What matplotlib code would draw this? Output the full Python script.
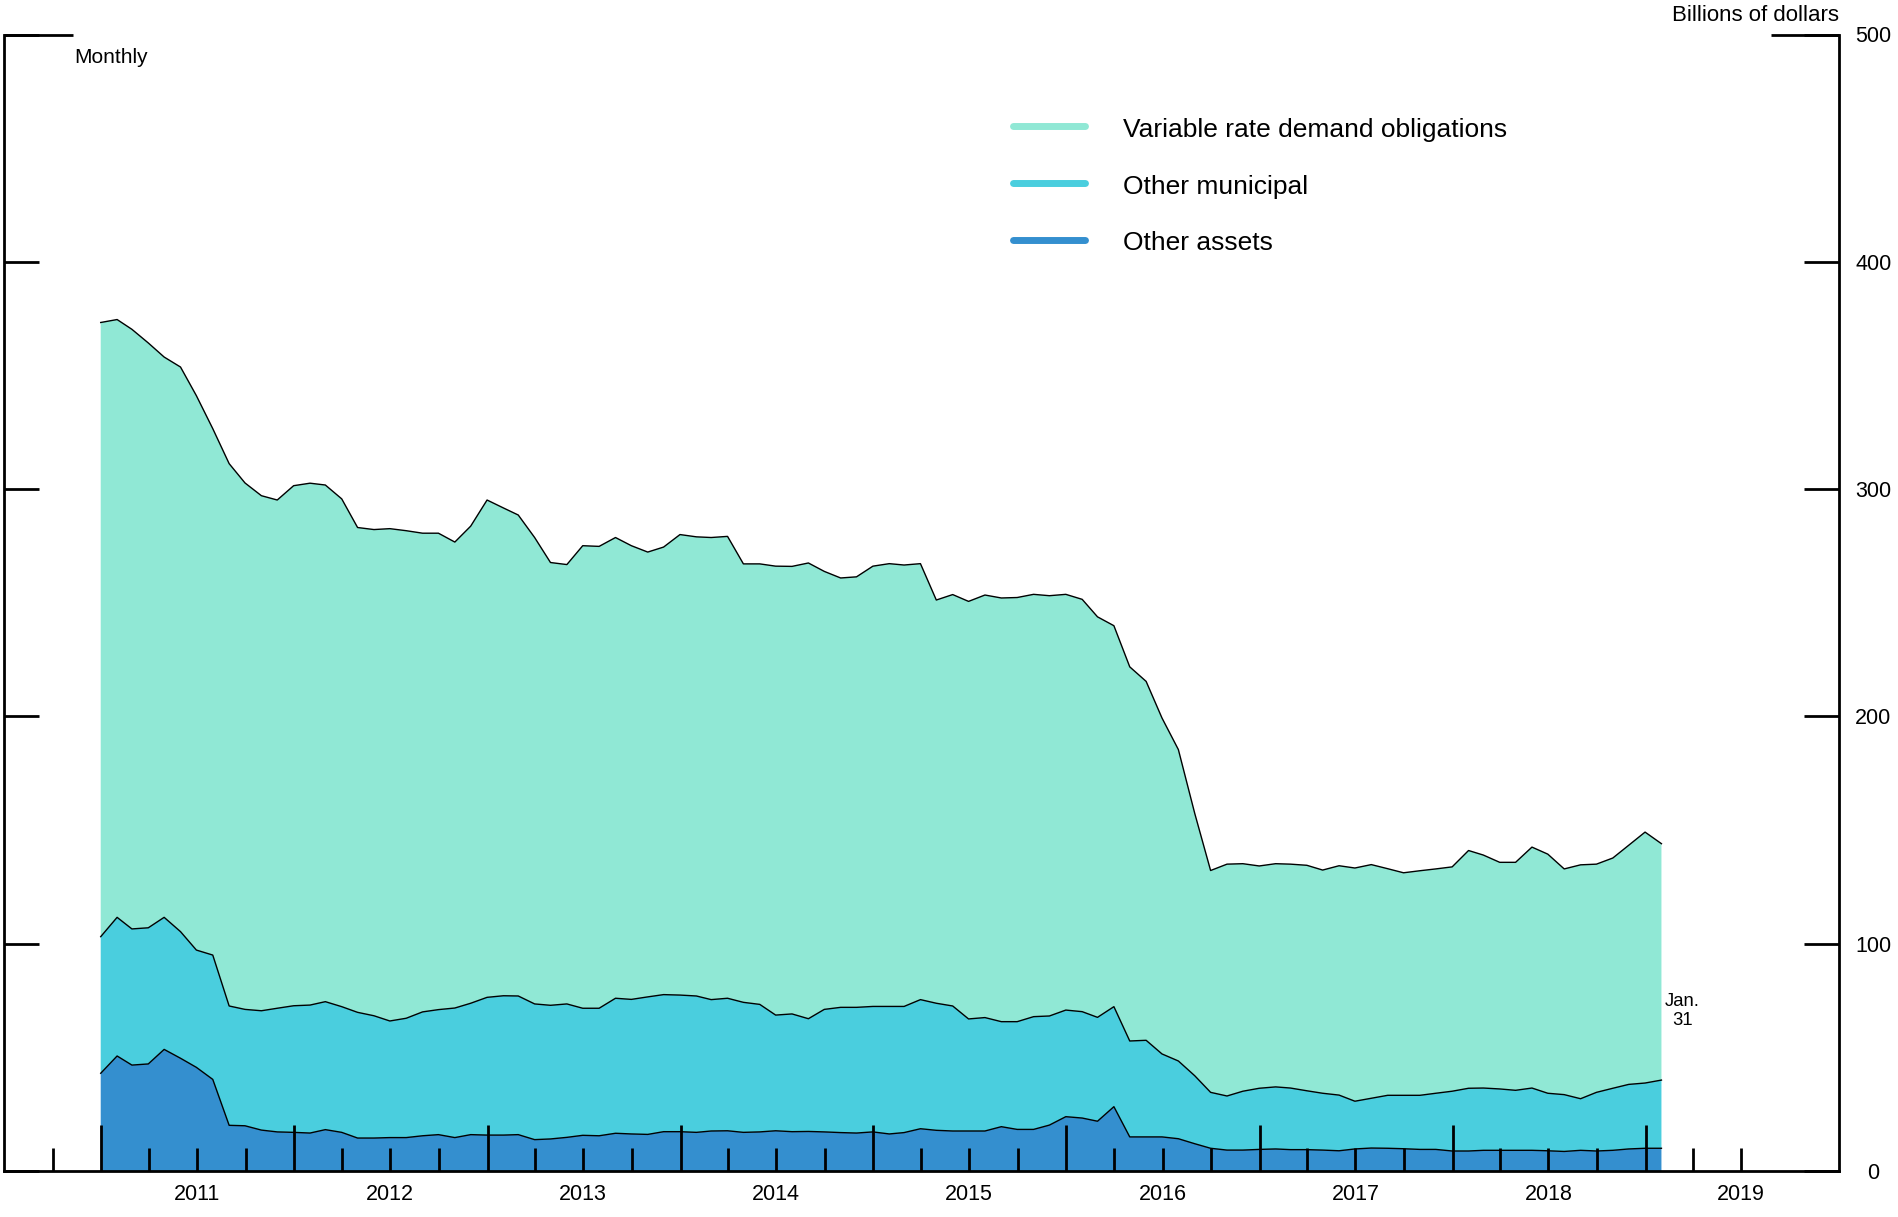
#!/usr/bin/env python3
"""Stacked area chart of tax-exempt fund holdings, monthly, billions of dollars."""
import matplotlib

matplotlib.use("Agg")

import matplotlib.pyplot as plt
import numpy as np
import pandas as pd
from matplotlib.lines import Line2D

plt.rcParams["font.family"] = ["Liberation Sans", "DejaVu Sans"]

# month-end observations, Dec. 2010 through Jan. 2019
months = pd.date_range("2010-12-31", "2019-01-31", freq="ME")

other_assets = [
    43.0, 50.6, 46.6, 47.1, 53.5, 49.6, 45.6, 40.3, 20.1, 19.9, 18.0, 17.2,
    17.0, 16.7, 18.2, 17.0, 14.5, 14.5, 14.7, 14.7, 15.5, 16.0, 14.7, 16.0,
    15.8, 15.8, 16.0, 13.8, 14.1, 14.8, 15.7, 15.5, 16.6, 16.3, 16.1, 17.3,
    17.3, 17.0, 17.6, 17.7, 17.0, 17.2, 17.7, 17.3, 17.4, 17.2, 16.9, 16.7,
    17.2, 16.3, 16.9, 18.6, 17.9, 17.6, 17.6, 17.6, 19.5, 18.3, 18.3, 20.2,
    23.9, 23.3, 21.9, 28.3, 15.0, 15.0, 15.0, 14.2, 12.0, 10.0, 9.2, 9.2,
    9.5, 9.7, 9.4, 9.4, 9.2, 8.9, 9.7, 10.1, 10.0, 9.8, 9.5, 9.5,
    8.8, 8.8, 9.1, 9.1, 9.1, 9.1, 8.9, 8.6, 9.1, 8.8, 9.1, 9.7,
    10.0, 10.0,
]
other_municipal = [
    60.1, 61.0, 59.9, 59.9, 58.1, 55.7, 51.6, 54.7, 52.5, 51.2, 52.5, 54.4,
    55.7, 56.3, 56.3, 55.3, 55.3, 53.8, 51.3, 52.5, 54.5, 55.0, 57.0, 57.8,
    60.6, 61.3, 61.0, 59.7, 58.8, 58.7, 55.9, 56.1, 59.4, 59.2, 60.5, 60.3,
    60.1, 60.0, 57.8, 58.3, 57.2, 56.1, 50.9, 51.8, 49.6, 53.9, 55.1, 55.3,
    55.2, 56.1, 55.5, 56.8, 55.9, 55.0, 49.3, 49.9, 46.2, 47.4, 49.6, 48.0,
    46.9, 46.8, 45.7, 44.0, 42.2, 42.5, 36.5, 34.2, 29.9, 24.6, 23.8, 25.9,
    26.9, 27.3, 27.1, 25.9, 25.0, 24.5, 21.0, 21.9, 23.3, 23.5, 23.8, 24.7,
    26.3, 27.6, 27.4, 27.0, 26.4, 27.4, 25.3, 25.0, 22.7, 25.8, 27.3, 28.4,
    28.7, 30.0,
]
vrdo = [
    270.2, 263.0, 263.8, 257.3, 246.5, 248.4, 243.9, 231.6, 238.6, 231.6, 226.6, 223.6,
    228.8, 229.6, 227.3, 223.4, 213.3, 213.9, 216.6, 214.5, 210.6, 209.6, 205.0, 209.9,
    218.8, 214.6, 211.6, 205.2, 194.8, 193.3, 203.5, 203.2, 202.7, 199.6, 195.7, 196.9,
    202.6, 202.0, 203.3, 203.2, 192.9, 193.8, 197.5, 196.9, 200.5, 192.7, 188.9, 189.4,
    193.7, 194.8, 194.2, 191.8, 177.4, 181.0, 183.7, 185.9, 186.4, 186.6, 185.8, 184.9,
    182.9, 181.4, 176.2, 167.6, 164.6, 157.9, 147.8, 137.0, 115.4, 97.6, 102.0, 100.1,
    97.8, 98.2, 98.5, 99.2, 98.2, 100.9, 102.6, 102.8, 99.7, 97.9, 98.8, 98.7,
    98.7, 104.6, 102.5, 99.7, 100.3, 106.0, 105.2, 99.3, 102.9, 100.4, 101.3, 105.2,
    110.4, 104.0,
]

labels = ["Other assets", "Other municipal", "Variable rate demand obligations"]
colors = ["#348FCF", "#4ACEDE", "#90E8D5"]

W, H = 1898, 1217
fig = plt.figure(figsize=(W / 100, H / 100), dpi=100)
ax = fig.add_axes([4 / W, 1 - 1171 / H, (1838.5 - 4) / W, (1171 - 34.5) / H])

series = [other_assets, other_municipal, vrdo]
ax.stackplot(months, *series, colors=colors, linewidth=0)
tops = np.cumsum(np.array(series), axis=0)
for row in tops:
    ax.plot(months, row, color="black", lw=1.0, zorder=3)

ax.set_xlim(pd.Timestamp("2010-07-01"), pd.Timestamp("2020-01-01"))
ax.set_ylim(0, 500)

# x axis: tall ticks at year starts, short quarterly ticks, years labelled at mid-year
years = pd.date_range("2011-01-01", "2019-01-01", freq="YS")
quarters = [q for q in pd.date_range("2010-10-01", "2019-07-01", freq="QS") if q.month != 1]
ax.set_xticks(years, labels=[""] * len(years))
ax.set_xticks(quarters, labels=[str(q.year) if q.month == 7 else "" for q in quarters],
              minor=True)
ax.tick_params(axis="x", which="major", direction="in", length=33, width=2)
ax.tick_params(axis="x", which="minor", direction="in", length=16.5, width=2,
               labelsize=15.5, pad=9.5)

ax.set_yticks(range(0, 501, 100))
ax.tick_params(axis="y", direction="in", length=25, width=2, left=True, right=True,
               labelleft=False, labelright=True, labelsize=15.5, pad=25)
for lab in ax.get_yticklabels(which="both"):
    lab.set_horizontalalignment("center")

ax.spines["top"].set_visible(False)
for side in ("left", "right", "bottom"):
    ax.spines[side].set_linewidth(2)

# longer marks at the top of both scales
span = 1838.5 - 4
for x0, x1 in ((0, 69 / span), (1 - 68 / span, 1)):
    ax.add_artist(Line2D([x0, x1], [1, 1], transform=ax.transAxes, color="black",
                         lw=2, clip_on=False, solid_capstyle="butt"))

fig.text(74 / W, 1 - 63 / H, "Monthly", fontsize=15, va="baseline")
fig.text(1838.5 / W, 1 - 21 / H, "Billions of dollars", fontsize=16, ha="right",
         va="baseline")

ax.text(months[-1] + pd.Timedelta(days=40), 70.4, "Jan.\n31", fontsize=13.3,
        ha="center", va="center", multialignment="center", linespacing=1.1)

# legend, listed top to bottom
for k, idx in enumerate([2, 1, 0]):
    y = 1 - (126 + 57 * k) / H
    fig.add_artist(Line2D([1013 / W, 1085 / W], [y, y], transform=fig.transFigure,
                          color=colors[idx], lw=5, solid_capstyle="round"))
    fig.text(1123 / W, 1 - (136.5 + 57 * k) / H, labels[idx], fontsize=19,
             va="baseline")

fig.savefig("out.png", dpi=100)
